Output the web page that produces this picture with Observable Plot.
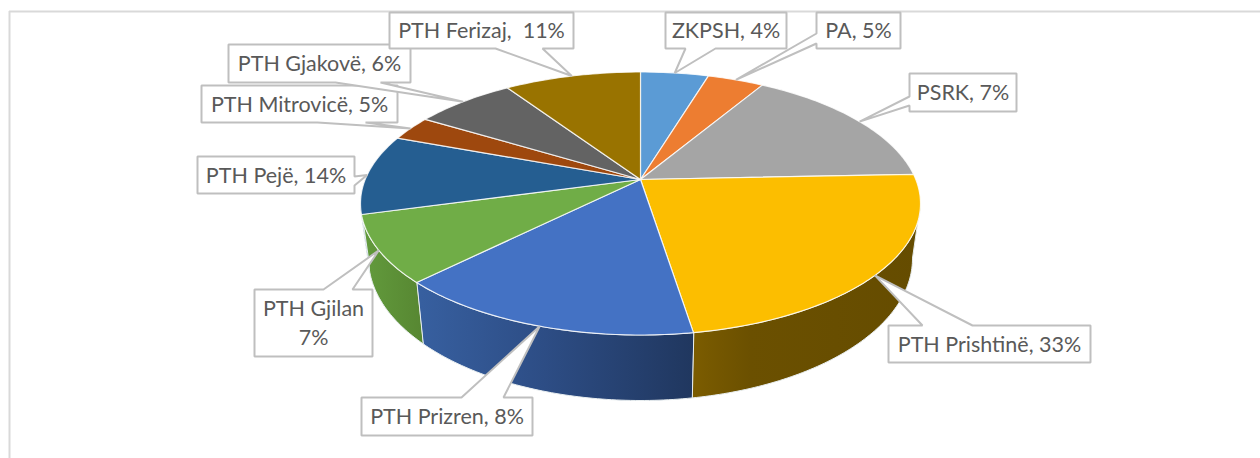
<!DOCTYPE html>
<html>
<head>
<meta charset="utf-8">
<script src="https://cdn.jsdelivr.net/npm/d3@7"></script>
<script src="https://cdn.jsdelivr.net/npm/@observablehq/plot@0.6"></script>
<style>
html,body{margin:0;padding:0;background:#fff;overflow:hidden}
svg text{white-space:pre}
</style>
</head>
<body>
<div id="chart"></div>
<script>
// Data
const categories = ["ZKPSH","PA","PSRK","PTH Prishtinë","PTH Prizren","PTH Gjilan","PTH Pejë","PTH Mitrovicë","PTH Gjakovë","PTH Ferizaj"];
const labels = ["ZKPSH, 4%","PA, 5%","PSRK, 7%","PTH Prishtinë, 33%","PTH Prizren, 8%","PTH Gjilan\n7%","PTH Pejë, 14%","PTH Mitrovicë, 5%","PTH Gjakovë, 6%","PTH Ferizaj,  11%"];
// drawn sweep of each slice in degrees (the printed percentages differ)
const sweeps = [14.05,11.75,51.4,91.9,64,32.1,34.6,10,21.8,28.4];

// Styles
const topColors = ["#5b9bd5","#ed7d31","#a5a5a5","#fcbe00","#4472c4","#70ad47","#255e91","#9e480e","#636363","#997300"];
const sideFills = {"PTH Prishtinë":"url(#sideGold)","PTH Prizren":"url(#sideBlue)","PTH Gjilan":"url(#sideGreen)"};

// Layout
const topEllipse = {cx:640, cy:203, rx:280, ry:131.5};
const bottomEllipse = {cx:640, cy:258, rx:272, ry:142};
const apex = [640,179];
const boxes = {            // x0,y0,x1,y1, tail side, tail base a,b
  "ZKPSH":[665,12,786,48,"b",685,715],
  "PA":[816,12,900,48,"l",33,43],
  "PSRK":[909,73,1016,111,"l",96,105],
  "PTH Prishtinë":[888,325,1090,362,"t",922,972],
  "PTH Prizren":[361,397,532,435,"t",461,503],
  "PTH Gjilan":[254,289,372,356,"t",323,352],
  "PTH Pejë":[197,156,354,193,"r",176,185],
  "PTH Mitrovicë":[201,85,397,122,"b",317,365],
  "PTH Gjakovë":[228,44,410,82,"b",335,380],
  "PTH Ferizaj":[389,12,573,48,"b",495,542]
};

// Geometry derived from the values
const at = (e,t)=>{const r=t*Math.PI/180;return [e.cx+e.rx*Math.sin(r), e.cy-e.ry*Math.cos(r)];};
let acc = 0;
const slices = categories.map((name,i)=>{const t0=acc; acc+=sweeps[i]; return {name,label:labels[i],color:topColors[i],t0,t1:acc,mid:(t0+acc)/2};});
const arc = (e,a,b)=>{const n=Math.max(2,Math.ceil(Math.abs(b-a)));return d3.range(n+1).map(k=>at(e,a+(b-a)*k/n));};
const topPoly = s=>[apex,...arc(topEllipse,s.t0,s.t1)];
const sideSlices = slices.map(s=>({...s,a:Math.max(s.t0,90),b:Math.min(s.t1,270)})).filter(s=>s.b>s.a);
const sidePoly = s=>[...arc(topEllipse,s.a,s.b),...arc(bottomEllipse,s.b,s.a)];
const callout = s=>{
  const [x0,y0,x1,y1,side,a,b]=boxes[s.name], tip=at(topEllipse,s.mid);
  if(side==="b") return [[x0,y0],[x1,y0],[x1,y1],[b,y1],tip,[a,y1],[x0,y1]];
  if(side==="t") return [[x0,y0],[a,y0],tip,[b,y0],[x1,y0],[x1,y1],[x0,y1]];
  if(side==="l") return [[x0,y0],[x1,y0],[x1,y1],[x0,y1],[x0,b],tip,[x0,a]];
  return [[x0,y0],[x1,y0],[x1,a],tip,[x1,b],[x1,y1],[x0,y1]];
};
const poly = (pts,opts)=>Plot.line(pts,{x:d=>d[0],y:d=>d[1],curve:"linear-closed",...opts});

// Side gradients, in chart coordinates
const gradients = ()=>{
  const defs=d3.create("svg:defs");
  const add=(id,x1,x2,stops)=>{
    const g=defs.append("linearGradient").attr("id",id).attr("gradientUnits","userSpaceOnUse")
      .attr("x1",x1).attr("x2",x2).attr("y1",0).attr("y2",0);
    stops.forEach(([o,c])=>g.append("stop").attr("offset",o).attr("stop-color",c));
  };
  add("sideGold",693,920,[[0,"#7b5c00"],[0.25,"#6b5000"],[1,"#654c00"]]);
  add("sideBlue",421,693,[[0,"#375f9f"],[0.45,"#2d4d85"],[1,"#20375f"]]);
  add("sideGreen",365,421,[[0,"#629a3c"],[1,"#578732"]]);
  return defs.node();
};

const chart = Plot.plot({
  width:1260, height:458, margin:0,
  style:{background:"#fff"},
  x:{domain:[0,1260],range:[0,1260],axis:null},
  y:{domain:[0,458],range:[0,458],axis:null},
  marks:[
    gradients,
    Plot.ruleX([9],{y1:11,y2:458,stroke:"#d9d9d9",strokeWidth:2}),
    Plot.ruleY([11],{x1:9,x2:1260,stroke:"#d9d9d9",strokeWidth:2}),
    ...sideSlices.map(s=>poly(sidePoly(s),{fill:sideFills[s.name]||d3.color(s.color).darker(0.6).formatHex(),stroke:"#e8eef0",strokeWidth:1})),
    ...slices.map(s=>poly(topPoly(s),{fill:s.color,stroke:"#fff",strokeWidth:1.2,strokeOpacity:0.8})),
    ...slices.map(s=>poly(callout(s),{fill:"#fff",stroke:"#bfbfbf",strokeWidth:2,strokeLinejoin:"miter"})),
    Plot.text(slices,{
      x:s=>(boxes[s.name][0]+boxes[s.name][2])/2,
      y:s=>(boxes[s.name][1]+boxes[s.name][3])/2,
      dy:-1.5,
      text:"label",
      fill:"#595959",
      fontFamily:"Lato",
      fontSize:21.5,
      lineHeight:1.32,
      lineAnchor:"middle",
      textAnchor:"middle"
    })
  ]
});
document.getElementById("chart").append(chart);
</script>
</body>
</html>
